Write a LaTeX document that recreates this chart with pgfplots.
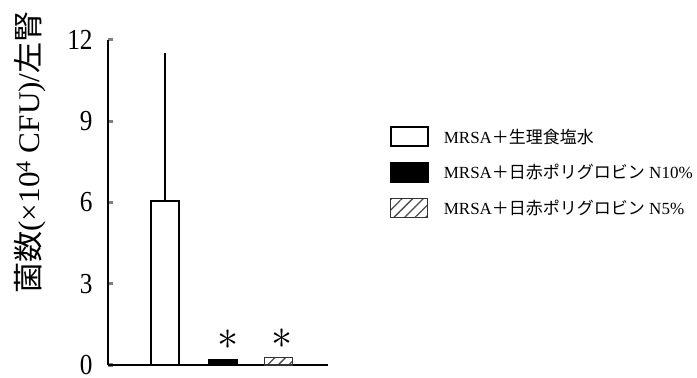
\documentclass[border=0pt]{standalone}
\usepackage{pgfplots}
\pgfplotsset{compat=1.18}
\usepackage{fontspec}
\setmainfont{Liberation Serif}
\newfontfamily\cjk{Noto Sans CJK JP}
\usetikzlibrary{patterns.meta}
\begin{document}
\begin{tikzpicture}
\path[use as bounding box] (0,0) rectangle (697bp,378bp);
\begin{axis}[
  at={(108bp,13bp)}, anchor=south west,
  scale only axis, width=220bp, height=325bp,
  xmin=-1.01, xmax=2.87, ymin=0, ymax=12,
  axis lines=left, axis line style={-, line width=2.5bp},
  xtick=\empty,
  ytick={0,3,6,9,12},
  tick align=inside, major tick length=5bp,
  ytick style={line width=3bp},
  /pgf/number format/assume math mode=true,
  yticklabel={\scalebox{0.87}[1]{\fontsize{29bp}{30bp}\selectfont\pgfmathprintnumber[assume math mode=true]{\tick}}},
  yticklabel style={anchor=east, xshift=-12bp},
  ylabel={\scalebox{1.04}[1]{{\cjk 菌数}(×10\textsuperscript{4} CFU)/{\cjk 左腎}}},
  ylabel style={at={(axis description cs:-0.3545,0.654)}, anchor=center, font=\fontsize{30bp}{32bp}\selectfont},
  clip=false,
  legend image code/.code={\draw[#1] (0bp,-9.5bp) rectangle (37bp,9.5bp);},
  legend style={at={(axis description cs:1.28,0.7354)}, anchor=north west, draw=none, fill=none,
    inner sep=0pt, row sep=15bp, font=\fontsize{17bp}{18bp}\selectfont,
    nodes={inner sep=0pt}, column sep=15bp},
  legend cell align=left,
]
\addplot[ybar, bar width=0.49, bar shift=0pt, draw=black, line width=2bp, fill=white,
  error bars/.cd, y dir=plus, y explicit, error mark=none, error bar style={line width=2bp}]
  coordinates {(0,6.07) +- (0,5.45)};
\addlegendentry{MRSA{\cjk ＋生理食塩水}}
\addplot[ybar, bar width=0.5, bar shift=0pt, draw=black, line width=1.5bp, fill=black,
  nodes near coords={\scalebox{1.7}{$\ast$}}, every node near coord/.style={anchor=center, inner sep=0pt, yshift=20bp, xshift=5bp, font=\fontsize{24bp}{24bp}\selectfont, text=black}]
  coordinates {(1.02,0.21)};
\addlegendentry{MRSA{\cjk ＋日赤ポリグロビン} N10\%}
\addplot[ybar, bar width=0.5, bar shift=0pt, draw=black!80, line width=1.2bp,
  pattern={Lines[angle=45,distance=7.5bp,line width=1.3bp]}, pattern color=black!70,
  nodes near coords={\scalebox{1.7}{$\ast$}}, every node near coord/.style={anchor=center, inner sep=0pt, yshift=19bp, xshift=3.5bp, font=\fontsize{24bp}{24bp}\selectfont, text=black}]
  coordinates {(2,0.27)};
\addlegendentry{MRSA{\cjk ＋日赤ポリグロビン} N5\%}
\end{axis}
\end{tikzpicture}
\end{document}
